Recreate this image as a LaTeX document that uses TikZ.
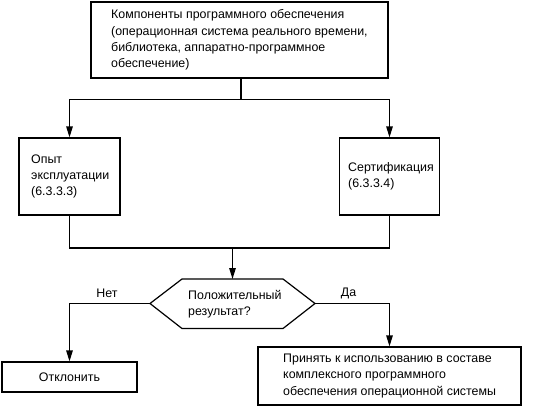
\documentclass[tikz,border=0pt]{standalone}
\usepackage{fontspec}
\setmainfont{Liberation Sans}
\usetikzlibrary{arrows.meta,calc}
\begin{document}
\begin{tikzpicture}[x=1pt,y=-1pt,
  every node/.style={font=\fontsize{12.4}{16.3}\selectfont},
  box/.style={draw,line width=1.2pt,rectangle,inner sep=0pt},
  txt/.style={inner sep=0pt,align=left,anchor=west},
  conn/.style={line width=1.2pt},
  arr/.style={line width=1.2pt,-{Triangle[length=11pt,width=6.5pt]}},
  lbl/.style={inner sep=0pt}]
\useasboundingbox (0,0) rectangle (540,407);
% boxes
\node[box,minimum width=297pt,minimum height=76pt] (top) at (239.5,40) {};
\node[txt] (topt) at (111,40) {Компоненты программного обеспечения\\(операционная система реального времени,\\библиотека, аппаратно-программное\\обеспечение)};
\node[box,minimum width=101pt,minimum height=77pt] (exp) at (69.5,176.5) {};
\node[txt] (expt) at (31,176.5) {Опыт\\эксплуатации\\(6.3.3.3)};
\node[box,minimum width=100pt,minimum height=77pt] (cert) at (389.5,176.5) {};
\node[txt] (certt) at (348,176.5) {Сертификация\\(6.3.3.4)};
% decision
\node[txt] (dec) at (188,304) {Положительный\\результат?};
\coordinate (decL) at (150,303.5);
\coordinate (decR) at (315,303.5);
\coordinate (decT) at (232.5,279);
\draw[line width=1.2pt] (decL) -- (182,279) -- (283,279) -- (decR) -- (283,328.5) -- (182,328.5) -- cycle;
\node[box,minimum width=135pt,minimum height=30pt] (rej) at (69.5,377) {Отклонить};
\node[box,minimum width=263pt,minimum height=58pt] (acc) at (389.5,376) {};
\node[txt] (acct) at (283,376) {Принять к использованию в составе\\комплексного программного\\обеспечения операционной системы};
% connectors
\coordinate (split) at (241,99.5);
\coordinate (join) at (232.5,248);
\draw[conn] (top.south -| split) -- (split);
\draw[arr] (split) -| (exp.north);
\draw[arr] (split) -| (cert.north);
\draw[conn] (exp.south) |- (join);
\draw[conn] (cert.south) |- (join);
\draw[arr] (join) -- (decT);
\draw[arr] (decL) -| (rej.north);
\draw[arr] (decR) -| (acc.north);
\node[lbl] (no) at (107,293) {Нет};
\node[lbl] (yes) at (348.5,293) {Да};
\end{tikzpicture}
\end{document}
